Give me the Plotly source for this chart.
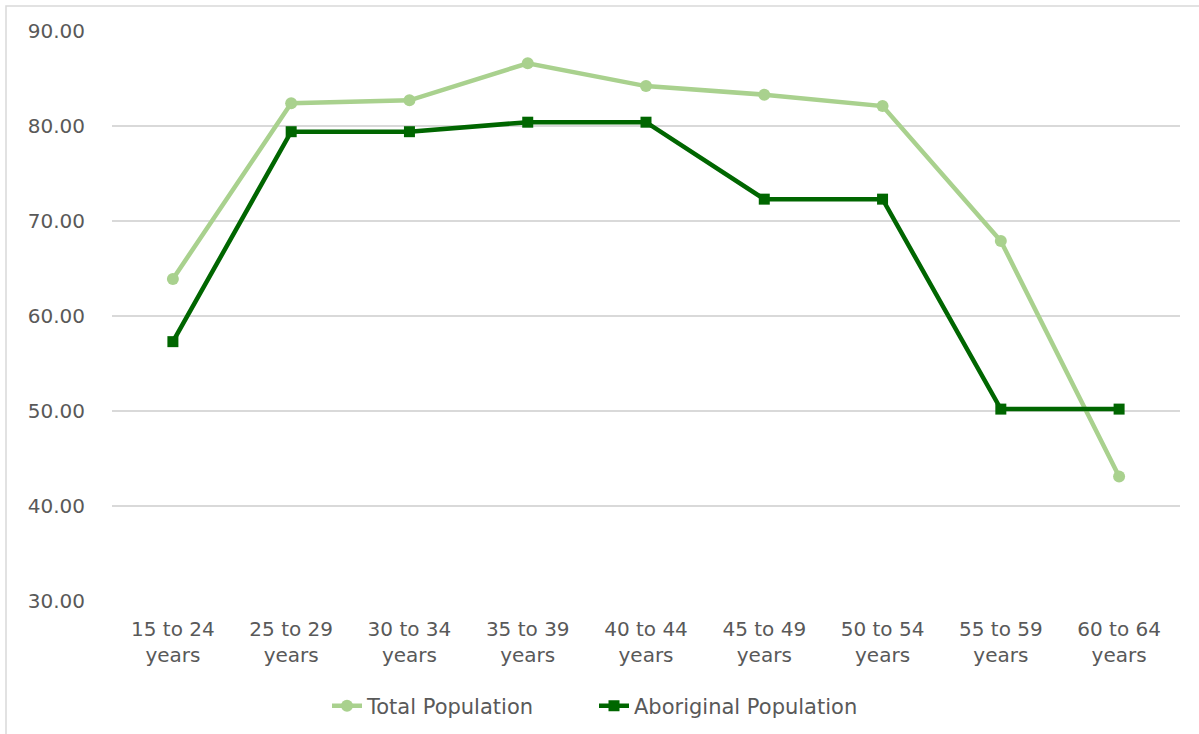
import plotly.graph_objects as go

categories = ["15 to 24<br>years", "25 to 29<br>years", "30 to 34<br>years", "35 to 39<br>years",
              "40 to 44<br>years", "45 to 49<br>years", "50 to 54<br>years", "55 to 59<br>years",
              "60 to 64<br>years"]
total_population = [63.9, 82.4, 82.7, 86.6, 84.2, 83.3, 82.1, 67.9, 43.1]
aboriginal_population = [57.3, 79.4, 79.4, 80.4, 80.4, 72.3, 72.3, 50.2, 50.2]
y_ticks = [30, 40, 50, 60, 70, 80, 90]

FONT = "'DejaVu Sans', sans-serif"
TXT = "#595959"

fig = go.Figure()
fig.add_trace(go.Scatter(
    x=categories, y=total_population, name="Total Population", mode="lines+markers",
    line=dict(color="#A9D18E", width=4.5), marker=dict(symbol="circle", size=12, color="#A9D18E"),
))
fig.add_trace(go.Scatter(
    x=categories, y=aboriginal_population, name="Aboriginal Population", mode="lines+markers",
    line=dict(color="#006600", width=4.5), marker=dict(symbol="square", size=11, color="#006600"),
))

L, R, T, B = 112, 19, 31, 133
W, H = 1199, 734
pw = W - L - R
ph = H - T - B

fig.update_layout(
    width=W, height=H,
    margin=dict(l=L, r=R, t=T, b=B, autoexpand=False),
    paper_bgcolor="white", plot_bgcolor="white",
    font=dict(family=FONT, size=20, color=TXT),
    showlegend=True,
    legend=dict(orientation="h", x=(327 - L) / pw, xanchor="left", y=-(706 - 601) / ph, yanchor="middle",
                font=dict(size=21, color=TXT), traceorder="normal",
                entrywidth=222, entrywidthmode="pixels"),
    xaxis=dict(showgrid=False, showline=False, zeroline=False, ticks="", ticklabelstandoff=14,
               tickfont=dict(size=20, color=TXT)),
    yaxis=dict(range=[30, 90], tickvals=y_ticks, ticktext=[f"{v:.2f}" for v in y_ticks],
               showgrid=True, gridcolor="#D9D9D9", gridwidth=1.5, zeroline=False, showline=False,
               ticks="", ticklabelstandoff=26, tickfont=dict(size=20, color=TXT)),
    shapes=[dict(type="rect", xref="paper", yref="paper",
                 x0=(6 - L) / pw, x1=(W + 5 - L) / pw,
                 y0=-(H + 5 - T - ph) / ph, y1=1 + (T - 6) / ph,
                 line=dict(color="#D9D9D9", width=1.5), fillcolor="rgba(0,0,0,0)", layer="below")],
)

fig.write_html("out.html", config={"displayModeBar": False},
               post_script="document.body.style.margin='0';")
